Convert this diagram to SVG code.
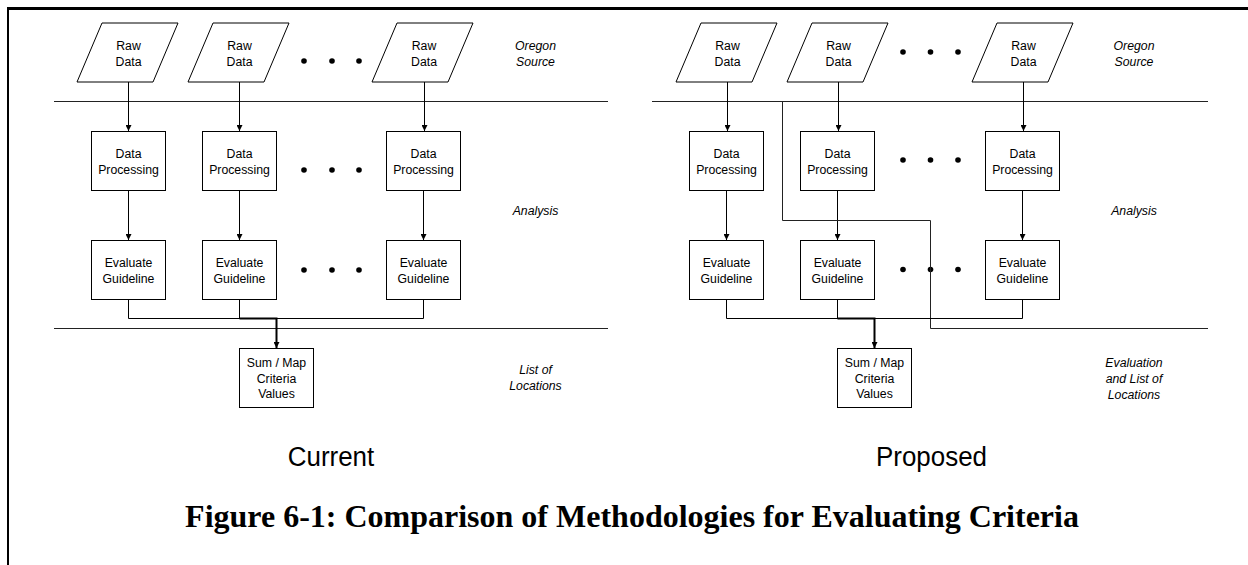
<svg xmlns="http://www.w3.org/2000/svg" width="1248" height="565" viewBox="0 0 1248 565">
  <style>
    .shape { fill: #fff; stroke: #000; stroke-width: 1; }
    .line { fill: none; stroke: #000; stroke-width: 1; }
    .thick { fill: none; stroke: #000; stroke-width: 2; }
    .sep { fill: none; stroke: #222; stroke-width: 1; }
    .frame { fill: none; stroke: #000; }
    .t { font-family: "Liberation Sans", Arial, sans-serif; font-size: 13.5px; text-anchor: middle; fill: #000; }
    .lab { font-family: "Liberation Sans", Arial, sans-serif; font-size: 13.5px; font-style: italic; text-anchor: middle; fill: #000; }
    .cap { font-family: "Liberation Sans", Arial, sans-serif; font-size: 27px; text-anchor: middle; fill: #000; }
    .title { font-family: "Liberation Serif", "Times New Roman", serif; font-size: 32px; font-weight: bold; text-anchor: middle; fill: #000; }
    .dot { fill: #000; }
  </style>
  <defs>
    <marker id="arrow" markerUnits="userSpaceOnUse" markerWidth="6" markerHeight="6" refX="6" refY="3" orient="auto">
      <path d="M0,0 L6,3 L0,6 z" fill="#000"/>
    </marker>
    <polygon id="para" points="-26,23 50,23 25,82 -51,82"/>
  </defs>

  <rect x="0" y="0" width="1248" height="565" fill="#fff"/>

  <!-- page frame: heavy top rule and left edge -->
  <path class="frame" d="M7,8.5 H1248" stroke-width="3"/>
  <path class="frame" d="M8,7 V565" stroke-width="2"/>

  <!-- ===== Current methodology ===== -->
  <g id="current-separators">
    <path class="sep" d="M54,101.5 H608"/>
    <path class="sep" d="M54,328.5 H608"/>
  </g>

  <g id="current-raw-1"><use href="#para" x="128" class="shape"/>
    <text class="t" transform="translate(128.5 49.5) scale(.91 1)">Raw</text>
    <text class="t" transform="translate(128.5 66) scale(.91 1)">Data</text></g>
  <g id="current-raw-2"><use href="#para" x="239" class="shape"/>
    <text class="t" transform="translate(239.5 49.5) scale(.91 1)">Raw</text>
    <text class="t" transform="translate(239.5 66) scale(.91 1)">Data</text></g>
  <g id="current-raw-n"><use href="#para" x="423" class="shape"/>
    <text class="t" transform="translate(424 49.5) scale(.91 1)">Raw</text>
    <text class="t" transform="translate(424 66) scale(.91 1)">Data</text></g>

  <g id="current-proc-1"><rect class="shape" x="91.5" y="131.5" width="74" height="59"/>
    <text class="t" transform="translate(128.5 157.5) scale(.91 1)">Data</text>
    <text class="t" transform="translate(128.5 173.5) scale(.91 1)">Processing</text></g>
  <g id="current-proc-2"><rect class="shape" x="202.5" y="131.5" width="74" height="59"/>
    <text class="t" transform="translate(239.5 157.5) scale(.91 1)">Data</text>
    <text class="t" transform="translate(239.5 173.5) scale(.91 1)">Processing</text></g>
  <g id="current-proc-n"><rect class="shape" x="386.5" y="131.5" width="74" height="59"/>
    <text class="t" transform="translate(423.5 157.5) scale(.91 1)">Data</text>
    <text class="t" transform="translate(423.5 173.5) scale(.91 1)">Processing</text></g>

  <g id="current-eval-1"><rect class="shape" x="91.5" y="240.5" width="74" height="59"/>
    <text class="t" transform="translate(128.5 266.5) scale(.91 1)">Evaluate</text>
    <text class="t" transform="translate(128.5 282.5) scale(.91 1)">Guideline</text></g>
  <g id="current-eval-2"><rect class="shape" x="202.5" y="240.5" width="74" height="59"/>
    <text class="t" transform="translate(239.5 266.5) scale(.91 1)">Evaluate</text>
    <text class="t" transform="translate(239.5 282.5) scale(.91 1)">Guideline</text></g>
  <g id="current-eval-n"><rect class="shape" x="386.5" y="240.5" width="74" height="59"/>
    <text class="t" transform="translate(423.5 266.5) scale(.91 1)">Evaluate</text>
    <text class="t" transform="translate(423.5 282.5) scale(.91 1)">Guideline</text></g>

  <g id="current-sum"><rect class="shape" x="239.5" y="348.5" width="74" height="59"/>
    <text class="t" transform="translate(276.5 367) scale(.91 1)">Sum / Map</text>
    <text class="t" transform="translate(276.5 382.5) scale(.91 1)">Criteria</text>
    <text class="t" transform="translate(276.5 398) scale(.91 1)">Values</text></g>

  <g id="current-ellipses">
    <circle class="dot" cx="304" cy="61" r="2.8"/><circle class="dot" cx="332" cy="61" r="2.8"/><circle class="dot" cx="359" cy="61" r="2.8"/>
    <circle class="dot" cx="304" cy="170" r="2.8"/><circle class="dot" cx="332" cy="170" r="2.8"/><circle class="dot" cx="359" cy="170" r="2.8"/>
    <circle class="dot" cx="304" cy="270" r="2.8"/><circle class="dot" cx="332" cy="270" r="2.8"/><circle class="dot" cx="359" cy="270" r="2.8"/>
  </g>

  <g id="current-labels">
    <text class="lab" transform="translate(535.5 50) scale(.91 1)">Oregon</text>
    <text class="lab" transform="translate(535.5 66) scale(.91 1)">Source</text>
    <text class="lab" transform="translate(535.5 215) scale(.91 1)">Analysis</text>
    <text class="lab" transform="translate(535.5 373.5) scale(.91 1)">List of</text>
    <text class="lab" transform="translate(535.5 390) scale(.91 1)">Locations</text>
    <text class="cap" transform="translate(331 466) scale(.96 1)">Current</text>
  </g>

  <!-- ===== Proposed methodology ===== -->
  <g id="proposed-separators">
    <path class="sep" d="M652,101.5 H1208"/>
  </g>

  <g id="proposed-raw-1"><use href="#para" x="727" class="shape"/>
    <text class="t" transform="translate(727.5 49.5) scale(.91 1)">Raw</text>
    <text class="t" transform="translate(727.5 66) scale(.91 1)">Data</text></g>
  <g id="proposed-raw-2"><use href="#para" x="838" class="shape"/>
    <text class="t" transform="translate(838.5 49.5) scale(.91 1)">Raw</text>
    <text class="t" transform="translate(838.5 66) scale(.91 1)">Data</text></g>
  <g id="proposed-raw-n"><use href="#para" x="1023" class="shape"/>
    <text class="t" transform="translate(1023.5 49.5) scale(.91 1)">Raw</text>
    <text class="t" transform="translate(1023.5 66) scale(.91 1)">Data</text></g>

  <g id="proposed-proc-1"><rect class="shape" x="689.5" y="131.5" width="74" height="59"/>
    <text class="t" transform="translate(726.5 157.5) scale(.91 1)">Data</text>
    <text class="t" transform="translate(726.5 173.5) scale(.91 1)">Processing</text></g>
  <g id="proposed-proc-2"><rect class="shape" x="800.5" y="131.5" width="74" height="59"/>
    <text class="t" transform="translate(837.5 157.5) scale(.91 1)">Data</text>
    <text class="t" transform="translate(837.5 173.5) scale(.91 1)">Processing</text></g>
  <g id="proposed-proc-n"><rect class="shape" x="985.5" y="131.5" width="74" height="59"/>
    <text class="t" transform="translate(1022.5 157.5) scale(.91 1)">Data</text>
    <text class="t" transform="translate(1022.5 173.5) scale(.91 1)">Processing</text></g>

  <g id="proposed-eval-1"><rect class="shape" x="689.5" y="240.5" width="74" height="59"/>
    <text class="t" transform="translate(726.5 266.5) scale(.91 1)">Evaluate</text>
    <text class="t" transform="translate(726.5 282.5) scale(.91 1)">Guideline</text></g>
  <g id="proposed-eval-2"><rect class="shape" x="800.5" y="240.5" width="74" height="59"/>
    <text class="t" transform="translate(837.5 266.5) scale(.91 1)">Evaluate</text>
    <text class="t" transform="translate(837.5 282.5) scale(.91 1)">Guideline</text></g>
  <g id="proposed-eval-n"><rect class="shape" x="985.5" y="240.5" width="74" height="59"/>
    <text class="t" transform="translate(1022.5 266.5) scale(.91 1)">Evaluate</text>
    <text class="t" transform="translate(1022.5 282.5) scale(.91 1)">Guideline</text></g>

  <g id="proposed-sum"><rect class="shape" x="837.5" y="348.5" width="74" height="59"/>
    <text class="t" transform="translate(874.5 367) scale(.91 1)">Sum / Map</text>
    <text class="t" transform="translate(874.5 382.5) scale(.91 1)">Criteria</text>
    <text class="t" transform="translate(874.5 398) scale(.91 1)">Values</text></g>

  <g id="proposed-ellipses">
    <circle class="dot" cx="903" cy="52" r="2.8"/><circle class="dot" cx="930.5" cy="52" r="2.8"/><circle class="dot" cx="958" cy="52" r="2.8"/>
    <circle class="dot" cx="903" cy="160" r="2.8"/><circle class="dot" cx="930.5" cy="160" r="2.8"/><circle class="dot" cx="958" cy="160" r="2.8"/>
    <circle class="dot" cx="903" cy="269.5" r="2.8"/><circle class="dot" cx="930.5" cy="269.5" r="2.8"/><circle class="dot" cx="958" cy="269.5" r="2.8"/>
  </g>

  <g id="proposed-labels">
    <text class="lab" transform="translate(1134 50) scale(.91 1)">Oregon</text>
    <text class="lab" transform="translate(1134 66) scale(.91 1)">Source</text>
    <text class="lab" transform="translate(1134 215) scale(.91 1)">Analysis</text>
    <text class="lab" transform="translate(1134 367) scale(.91 1)">Evaluation</text>
    <text class="lab" transform="translate(1134 383) scale(.91 1)">and List of</text>
    <text class="lab" transform="translate(1134 398.5) scale(.91 1)">Locations</text>
    <text class="cap" transform="translate(931.5 466) scale(.96 1)">Proposed</text>
  </g>

  <!-- ===== connectors ===== -->
  <g id="connectors">
    <!-- current: raw data -> processing -> evaluation -->
    <path class="line" d="M128.5,82 V131" marker-end="url(#arrow)"/>
    <path class="line" d="M239.5,82 V131" marker-end="url(#arrow)"/>
    <path class="line" d="M424.5,82 V131" marker-end="url(#arrow)"/>
    <path class="line" d="M128.5,191 V240" marker-end="url(#arrow)"/>
    <path class="line" d="M239.5,191 V240" marker-end="url(#arrow)"/>
    <path class="line" d="M423.5,191 V240" marker-end="url(#arrow)"/>
    <!-- current: evaluations merge into summary -->
    <path class="line" d="M128.5,300 V318.5 H423.5 V300"/>
    <path class="line" d="M239.5,300 V318.5"/>
    <path class="thick" d="M239.5,318.5 H276.5 V348" marker-end="url(#arrow)"/>

    <!-- proposed: raw data -> processing -> evaluation -->
    <path class="line" d="M727.5,82 V131" marker-end="url(#arrow)"/>
    <path class="line" d="M838.5,82 V131" marker-end="url(#arrow)"/>
    <path class="line" d="M1023.5,82 V131" marker-end="url(#arrow)"/>
    <path class="line" d="M726.5,191 V240" marker-end="url(#arrow)"/>
    <path class="line" d="M837.5,191 V240" marker-end="url(#arrow)"/>
    <path class="line" d="M1022.5,191 V240" marker-end="url(#arrow)"/>
    <!-- proposed: stepped boundary between source, analysis and evaluation -->
    <path class="sep" d="M782.5,101.5 V220.5 H930.5 V328.5 H1208"/>
    <!-- proposed: evaluations merge into summary -->
    <path class="line" d="M726.5,300 V318.5 H1022.5 V300"/>
    <path class="line" d="M837.5,300 V318.5"/>
    <path class="thick" d="M837.5,318.5 H874.5 V348" marker-end="url(#arrow)"/>
  </g>

  <g id="caption">
    <text class="title" x="632" y="527">Figure 6-1: Comparison of Methodologies for Evaluating Criteria</text>
  </g>
</svg>
